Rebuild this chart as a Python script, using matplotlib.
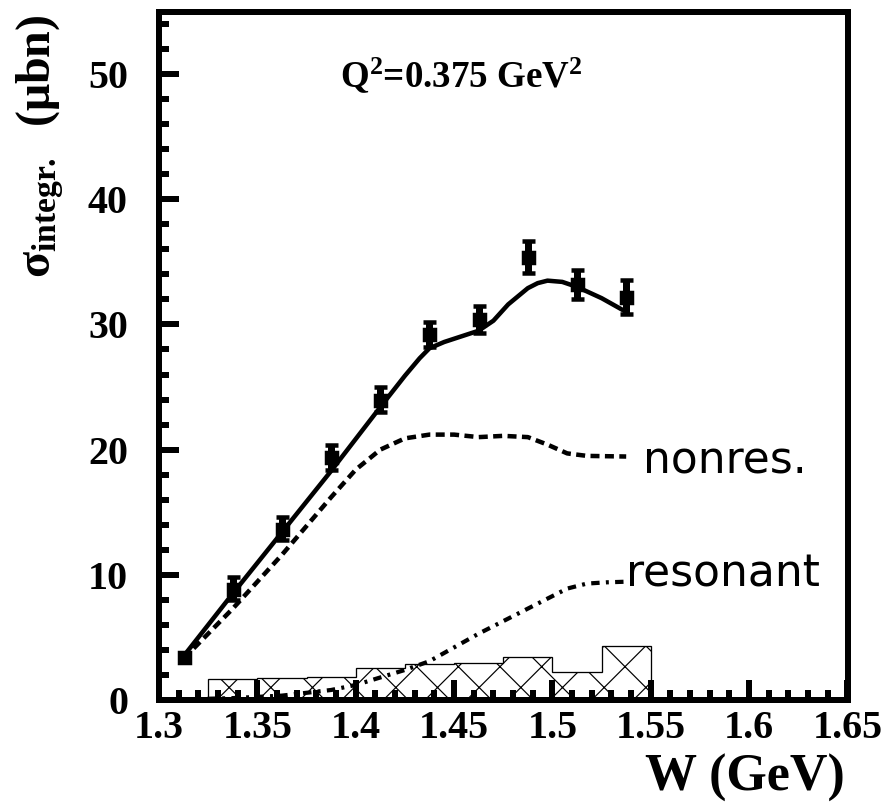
import matplotlib
matplotlib.use("Agg")
import matplotlib.pyplot as plt
import numpy as np

DPI = 250
def pt(px):
    return px * 72.0 / DPI

# ---- data ----
w_data = [1.3125, 1.3375, 1.3625, 1.3875, 1.4125, 1.4375, 1.4625, 1.4875, 1.5125, 1.5375]
sigma_data = [3.4, 8.9, 13.7, 19.4, 24.0, 29.2, 30.4, 35.4, 33.2, 32.2]
sigma_err = [0.3, 0.9, 0.9, 1.0, 1.0, 1.0, 1.1, 1.25, 1.15, 1.35]

w_fit = [1.3125, 1.3375, 1.3625, 1.3875, 1.4125, 1.425, 1.4325, 1.4375, 1.445,
         1.4625, 1.47, 1.4775, 1.4875, 1.4925, 1.4975, 1.505, 1.5125, 1.525, 1.5375]
sigma_fit = [3.5, 8.5, 13.4, 18.3, 23.4, 25.9, 27.3, 28.1, 28.6,
             29.5, 30.3, 31.6, 32.9, 33.3, 33.5, 33.4, 33.0, 32.1, 31.0]

w_nonres = [1.3125, 1.3375, 1.3625, 1.3875, 1.40, 1.4125, 1.425, 1.4375, 1.45,
            1.4625, 1.475, 1.4875, 1.4975, 1.5075, 1.5175, 1.5375]
sigma_nonres = [3.3, 7.3, 11.6, 16.2, 18.4, 20.0, 20.9, 21.2, 21.2,
                21.0, 21.1, 21.0, 20.4, 19.7, 19.5, 19.45]

w_res = [1.3125, 1.3375, 1.3625, 1.3875, 1.40, 1.4125, 1.425, 1.4375, 1.45,
         1.4625, 1.475, 1.4875, 1.4975, 1.5075, 1.5175, 1.5275, 1.5375]
sigma_res = [0.05, 0.15, 0.35, 0.8, 1.2, 1.8, 2.4, 3.1, 4.2,
             5.3, 6.3, 7.3, 8.1, 8.9, 9.3, 9.4, 9.45]

sys_edges = [1.325, 1.35, 1.375, 1.40, 1.425, 1.45, 1.475, 1.50, 1.525, 1.55]
sys_err = [1.65, 1.72, 1.8, 2.53, 2.87, 2.98, 3.46, 2.21, 4.31]

x_ticks = [1.3, 1.35, 1.4, 1.45, 1.5, 1.55, 1.6, 1.65]
x_ticklabels = ["1.3", "1.35", "1.4", "1.45", "1.5", "1.55", "1.6", "1.65"]
y_ticks = [0, 10, 20, 30, 40, 50]

# ---- style ----
plt.rcParams['mathtext.fontset'] = 'custom'
plt.rcParams['mathtext.rm'] = 'Liberation Serif:bold'
plt.rcParams['mathtext.it'] = 'Liberation Serif:bold'
plt.rcParams['mathtext.bf'] = 'Liberation Serif:bold'
plt.rcParams['hatch.linewidth'] = pt(1.2)
plt.rcParams['hatch.color'] = 'black'

fig = plt.figure(figsize=(895 / DPI, 806 / DPI), dpi=DPI)
L, R, B, T = 159 / 895, 847.5 / 895, 1 - 700 / 806, 1 - 11.5 / 806
ax = fig.add_axes([L, B, R - L, T - B])
ax.set_xlim(1.3, 1.65)
ax.set_ylim(0, 55)

for s in ax.spines.values():
    s.set_linewidth(pt(6))

ax.set_xticks(x_ticks)
ax.set_xticklabels(x_ticklabels)
ax.set_yticks(y_ticks)
ax.set_xticks(np.arange(1.30, 1.6501, 0.01), minor=True)
ax.set_yticks(np.arange(0, 55.01, 2), minor=True)
ax.tick_params(which='both', direction='in', top=False, right=False,
               width=pt(6), color='black')
ax.tick_params(which='major', length=pt(20))
ax.tick_params(which='minor', length=pt(10))
ax.tick_params(axis='x', which='major', pad=pt(10))
ax.tick_params(axis='y', which='major', pad=pt(31))
for lab in ax.get_xticklabels() + ax.get_yticklabels():
    lab.set_fontfamily('Liberation Serif')
    lab.set_fontweight('bold')
    lab.set_fontsize(pt(40))

# systematic error histogram
ax.stairs(sys_err, sys_edges, fill=True, facecolor='none', edgecolor='black',
          hatch='xx', linewidth=pt(1.3), zorder=2)

# curves
ax.plot(w_fit, sigma_fit, color='black', lw=pt(4.5), solid_capstyle='round',
        solid_joinstyle='round', zorder=3)
ax.plot(w_nonres, sigma_nonres, color='black', lw=pt(4.5), dashes=(2.0, 1.2), zorder=3)
ax.plot(w_res, sigma_res, color='black', lw=pt(4.2), dashes=(2.0, 1.5, 0.7, 1.5), zorder=3)

# data points
ax.errorbar(w_data, sigma_data, yerr=sigma_err, fmt='s', color='black',
            ms=pt(11), elinewidth=pt(7), capsize=pt(6.5), capthick=pt(4.5), zorder=4)

# labels
ax.text(1.5458, 18.13, "nonres.", fontfamily='DejaVu Sans', fontsize=pt(44),
        ha='left', va='baseline')
ax.text(1.5375, 9.03, "resonant", fontfamily='DejaVu Sans', fontsize=pt(44),
        ha='left', va='baseline')
fig.text(340 / 895, 1 - 87 / 806, "Q$^{2}$=0.375 GeV$^{2}$", fontfamily='Liberation Serif',
         fontweight='bold', fontsize=pt(37), ha='left', va='baseline')

fig.text(845 / 895, 1 - 791 / 806, "W (GeV)", fontfamily='Liberation Serif',
         fontweight='bold', fontsize=pt(52), ha='right', va='baseline')
fig.text(40 / 895, 1 - 146 / 806, r"$\sigma_{\mathrm{integr.}}$  ($\mu$bn)",
         fontfamily='Liberation Serif', fontweight='bold', fontsize=pt(48),
         rotation=90, ha='center', va='center')

fig.savefig("out.png", dpi=DPI)
